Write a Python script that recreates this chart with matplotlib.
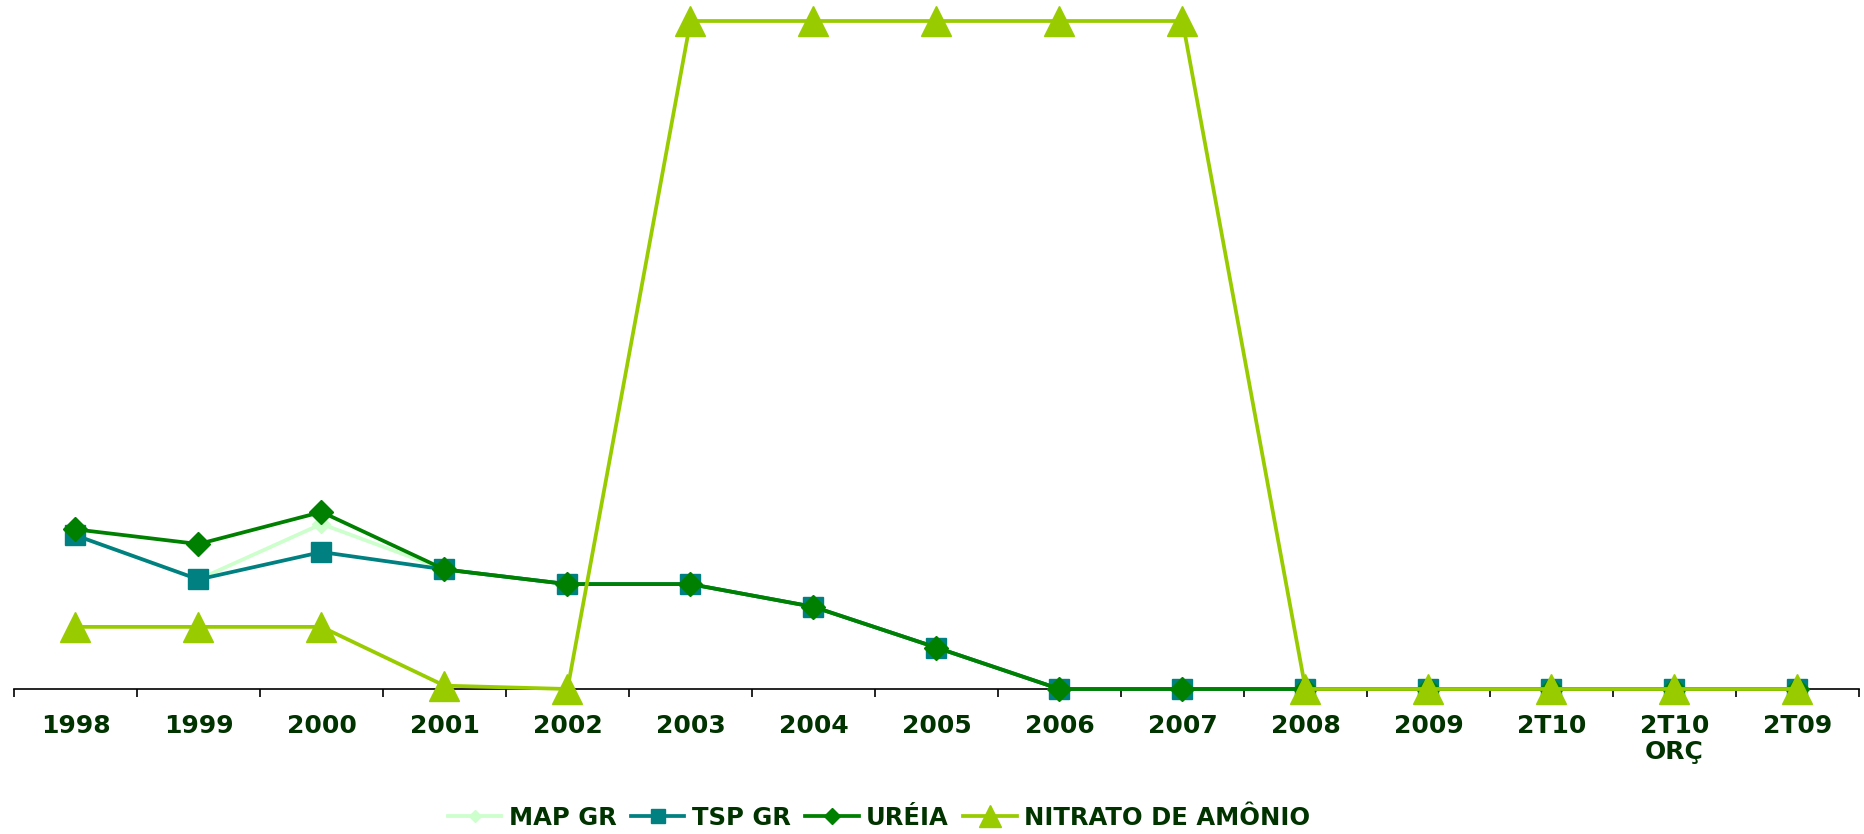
import numpy as np
import matplotlib
matplotlib.use('Agg')
import matplotlib.pyplot as plt

categories = ['1998', '1999', '2000', '2001', '2002', '2003', '2004', '2005',
              '2006', '2007', '2008', '2009', '2T10', '2T10\nORÇ', '2T09']

map_gr = [23.0, 16.4, 24.7, 17.9, 15.7, 15.7, 12.3, 6.2, 0, 0, 0, 0, 0, 0, 0]
tsp_gr = [23.0, 16.4, 20.5, 17.9, 15.7, 15.7, 12.3, 6.2, 0, 0, 0, 0, 0, 0, 0]
ureia = [23.9, 21.7, 26.5, 17.9, 15.7, 15.7, 12.3, 6.2, 0, 0, 0, 0, 0, 0, 0]
nitrato = [9.3, 9.3, 9.3, 0.5, 0, 100, 100, 100, 100, 100, 0, 0, 0, 0, 0]

label_color = '#003300'

fig = plt.figure(figsize=(18.65, 8.34), dpi=100)
ax = fig.add_axes([14 / 1865, 1 - 689 / 834, (1859 - 14) / 1865, (689 - 21) / 834])

x = np.arange(len(categories))
lw = 2.7
ax.plot(x, map_gr, color='#ccffcc', lw=lw, marker='D', markersize=9,
        label='MAP GR', clip_on=False, zorder=3)
ax.plot(x, tsp_gr, color='#008080', lw=lw, marker='s', markersize=15,
        label='TSP GR', clip_on=False, zorder=4)
ax.plot(x, ureia, color='#008000', lw=lw, marker='D', markersize=12,
        label='URÉIA', clip_on=False, zorder=5)
ax.plot(x, nitrato, color='#99cc00', lw=lw, marker='^', markersize=22,
        label='NITRATO DE AMÔNIO', clip_on=False, zorder=6)

ax.set_xlim(-0.5, len(categories) - 0.5)
ax.set_ylim(0, 100)

for s in ['top', 'right', 'left']:
    ax.spines[s].set_visible(False)
ax.spines['bottom'].set_color('black')
ax.spines['bottom'].set_linewidth(1.2)
ax.set_yticks([])

ax.set_xticks(x)
ax.set_xticklabels(categories, fontsize=18, fontweight='bold', color=label_color,
                   linespacing=1.1)
ax.tick_params(axis='x', which='major', length=0, pad=18)
ax.set_xticks(np.arange(-0.5, len(categories), 1), minor=True)
ax.tick_params(axis='x', which='minor', length=6, width=1.2, direction='out', color='black')

leg = fig.legend(loc='center', bbox_to_anchor=(879 / 1865, 1 - 818 / 834), ncol=4,
                 frameon=False, handlelength=2.2, handletextpad=0.3, columnspacing=0.6,
                 prop={'weight': 'bold', 'size': 17.5}, markerscale=0.7)
for t in leg.get_texts():
    t.set_color(label_color)

fig.savefig('out.png', dpi=100)
